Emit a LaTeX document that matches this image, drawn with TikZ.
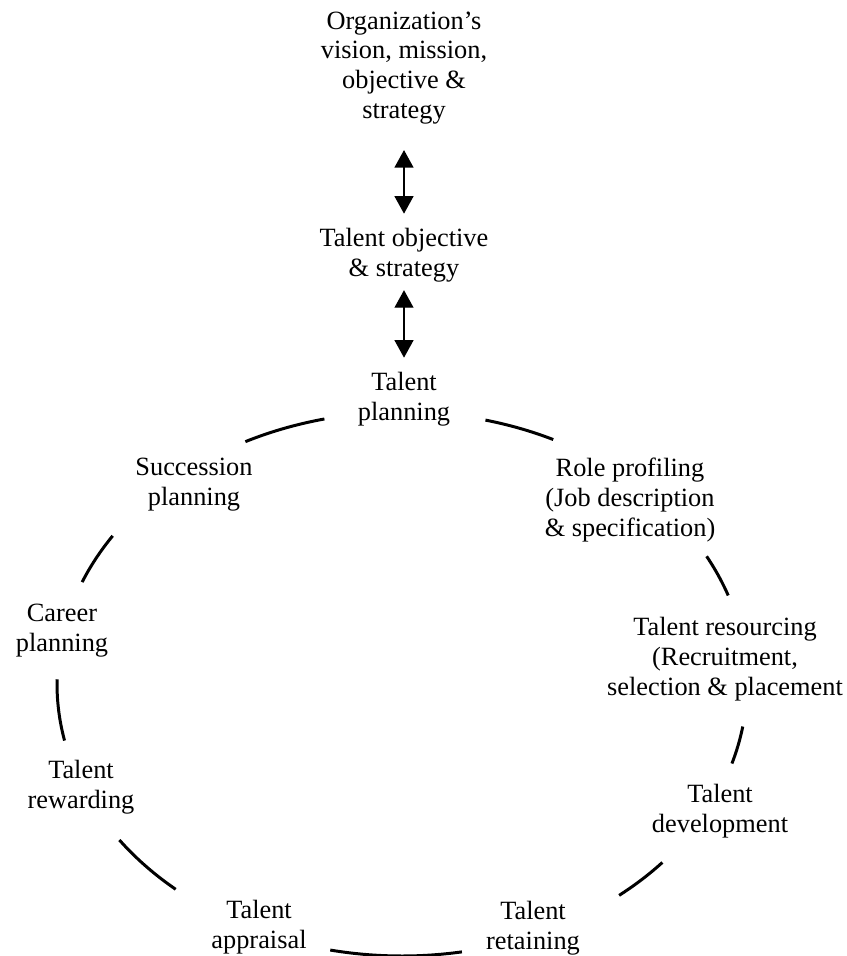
\documentclass[tikz,border=0pt]{standalone}
\usepackage{fontspec}
\setmainfont{Liberation Serif}
\usetikzlibrary{arrows.meta}

\begin{document}
\begin{tikzpicture}[x=0.02cm,y=-0.02cm,
  lbl/.style={align=center,inner sep=0pt,font=\fontsize{15}{17}\selectfont},
  dblarrow/.style={{Triangle[width=10.8pt,length=10pt]}-{Triangle[width=10.8pt,length=10pt]},line width=0.8pt},
  seg/.style={line width=1.7pt}]
\useasboundingbox (0,0) rectangle (846,956);
\pgfmathsetmacro{\cx}{402}
\pgfmathsetmacro{\cy}{684}
\pgfmathsetmacro{\rx}{345}
\pgfmathsetmacro{\ry}{272}
%
\node[lbl] (org) at (404,68) {Organization's\\vision, mission,\\objective \&\\strategy};
\node[lbl] (tobj) at (404,255) {Talent objective\\\& strategy};
\node[lbl] (tplan) at (404,399) {Talent\\planning};
\node[lbl] (role) at (630,500) {Role profiling\\(Job description\\\& specification)};
\node[lbl] (resourcing) at (725,659) {Talent resourcing\\(Recruitment,\\selection \& placement};
\node[lbl] (dev) at (720,811) {Talent\\development};
\node[lbl] (retain) at (533,928) {Talent\\retaining};
\node[lbl] (appraisal) at (259,927) {Talent\\appraisal};
\node[lbl] (reward) at (81,787) {Talent\\rewarding};
\node[lbl] (career) at (62,631) {Career\\planning};
\node[lbl] (succ) at (194,485) {Succession\\planning};
%
\draw[dblarrow,shorten <=14.4pt,shorten >=8pt] (org.south) -- (tobj.north);
\draw[dblarrow,shorten <=4.5pt,shorten >=8pt] (tobj.south) -- (tplan.north);
%
\foreach \a/\b in {103/117,64/76,19/28,-17/-9,-51/-41,-102/-80,-145/-131,179/192,147/158}
  \draw[seg,domain=\a:\b,samples=20,smooth] plot ({\cx+\rx*cos(\x)},{\cy-\ry*sin(\x)});
\end{tikzpicture}
\end{document}
